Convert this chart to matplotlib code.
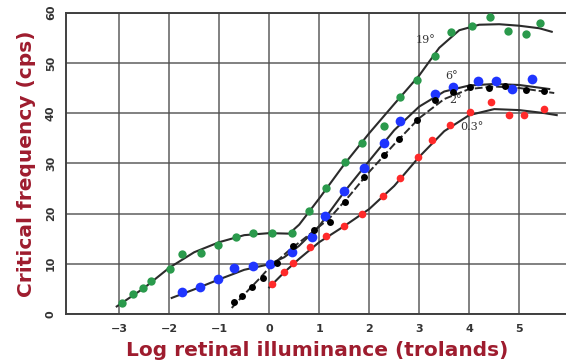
"""
Frecuencia crítica de parpadeo vs iluminancia retiniana para 4 tamaños de campo
"""
import matplotlib.pyplot as plt
import numpy as np

# Puntos medidos (log trolands, cps)
x_19 = [-2.95, -2.73, -2.53, -2.37, -1.99, -1.75, -1.36, -1.03, -0.66, -0.33, 0.05, 0.45,
        0.79, 1.14, 1.52, 1.85, 2.29, 2.61, 2.95, 3.31, 3.64, 4.05, 4.42, 4.77, 5.13, 5.41]
y_19 = [2.1, 3.9, 5.1, 6.6, 8.9, 11.9, 12.2, 13.7, 15.3, 16.1, 16.1, 16.1,
        20.6, 25.0, 30.3, 34.1, 37.4, 43.3, 46.6, 51.4, 56.1, 57.4, 59.2, 56.4, 55.8, 57.9]

x_6 = [-1.75, -1.38, -1.03, -0.71, -0.33, 0.02, 0.45, 0.85, 1.12, 1.50, 1.90, 2.29,
       2.61, 3.31, 3.67, 4.17, 4.54, 4.85, 5.25]
y_6 = [4.4, 5.3, 6.9, 9.1, 9.6, 10.0, 12.4, 15.3, 19.5, 24.5, 29.0, 34.0,
       38.5, 43.8, 45.1, 46.3, 46.3, 44.8, 46.8]

x_2 = [-0.70, -0.54, -0.35, -0.12, 0.15, 0.47, 0.89, 1.21, 1.52, 1.90, 2.30, 2.59,
       2.95, 3.31, 3.67, 4.02, 4.39, 4.72, 5.13, 5.49]
y_2 = [2.3, 3.6, 5.3, 7.1, 10.2, 13.6, 16.7, 18.4, 22.4, 27.2, 31.7, 34.8,
       38.6, 42.6, 44.3, 45.2, 45.0, 45.4, 44.6, 44.5]

x_03 = [0.05, 0.29, 0.47, 0.82, 1.14, 1.49, 1.85, 2.27, 2.61, 2.97, 3.25, 3.62,
        4.01, 4.44, 4.79, 5.10, 5.49]
y_03 = [5.9, 8.3, 10.1, 13.3, 15.5, 17.5, 19.9, 23.5, 27.0, 31.2, 34.7, 37.6,
        40.3, 42.3, 39.6, 39.6, 40.8]

# Curvas ajustadas (trazadas a mano)
cx_19 = [-3.05, -2.5, -2.0, -1.5, -1.0, -0.5, 0.0, 0.4, 0.6, 1.0, 1.5, 2.0, 2.5,
         3.0, 3.4, 3.8, 4.2, 4.6, 5.0, 5.4, 5.65]
cy_19 = [1.5, 5.2, 9.2, 12.3, 14.3, 15.7, 16.1, 16.0, 17.8, 23.0, 29.8, 36.0, 41.8,
         47.5, 53.0, 56.5, 57.6, 57.7, 57.4, 56.9, 56.2]

cx_6 = [-1.95, -1.5, -1.0, -0.5, 0.0, 0.3, 0.6, 1.0, 1.5, 2.0, 2.5, 3.0, 3.5,
        4.0, 4.5, 5.0, 5.6]
cy_6 = [3.2, 4.9, 6.9, 8.8, 9.9, 11.3, 13.6, 17.5, 24.3, 30.5, 36.6, 41.3, 44.3,
        45.5, 45.8, 45.6, 44.8]

cx_2 = [-0.75, -0.5, -0.2, 0.0, 0.4, 0.8, 1.2, 1.6, 2.0, 2.5, 3.0, 3.5, 4.0,
        4.5, 5.0, 5.7]
cy_2 = [1.2, 3.9, 7.0, 9.2, 12.7, 15.8, 19.0, 23.5, 28.3, 33.8, 39.0, 42.8, 44.8,
        45.3, 45.0, 44.0]

cx_03 = [0.0, 0.3, 0.6, 1.0, 1.5, 2.0, 2.5, 3.0, 3.5, 4.0, 4.5, 5.0, 5.5, 5.75]
cy_03 = [5.3, 8.3, 11.0, 14.3, 17.5, 20.9, 25.5, 31.3, 36.4, 39.6, 40.8, 40.6, 40.0, 39.6]

x_ticks = [-3, -2, -1, 0, 1, 2, 3, 4, 5, 6]
x_ticklabels = ['\u22123', '\u22122', '\u22121', '0', '1', '2', '3', '4', '5', '6']
y_ticks = [0, 10, 20, 30, 40, 50, 60]

fig = plt.figure(figsize=(5.66, 3.62), dpi=100)
ax = fig.add_axes([0.1161, 0.1326, 0.8896, 0.8324])

lc = '#2b2b2b'
ax.plot(cx_19, cy_19, color=lc, lw=1.5, zorder=3)
ax.plot(cx_6, cy_6, color=lc, lw=1.5, zorder=3)
ax.plot(cx_2, cy_2, color=lc, lw=1.4, ls=(0, (4, 1.5)), zorder=3)
ax.plot(cx_03, cy_03, color=lc, lw=1.5, zorder=3)

ax.plot(x_19, y_19, 'o', color='#2a9a4c', ms=6, mec='none', zorder=4)
ax.plot(x_6, y_6, 'o', color='#1f35ff', ms=7, mec='none', zorder=4)
ax.plot(x_2, y_2, 'o', color='black', ms=5, mec='none', zorder=4)
ax.plot(x_03, y_03, 'o', color='#ff2a2a', ms=5.5, mec='none', zorder=4)

# Etiquetas de tamaño de campo
lab = dict(fontsize=8, family='DejaVu Serif', color='#333333', zorder=5)
ax.text(3.12, 54.6, '19°', ha='center', va='center', **lab)
ax.text(3.65, 47.4, '6°', ha='center', va='center', **lab)
ax.text(3.72, 42.6, '2°', ha='center', va='center', **lab)
ax.text(4.05, 37.3, '0.3°', ha='center', va='center', **lab)

ax.set_xlim(-4.07, 6.0)
ax.set_ylim(0, 60)
ax.set_xticks(x_ticks)
ax.set_xticklabels(x_ticklabels)
ax.set_yticks(y_ticks)
ax.grid(True, color='#505050', lw=1.2, alpha=0.85)
ax.set_axisbelow(True)
for s in ax.spines.values():
    s.set_color('#404040')
    s.set_linewidth(1.4)

ax.tick_params(axis='both', length=0, labelsize=8, labelcolor='#333333')
ax.tick_params(axis='x', pad=7)
ax.tick_params(axis='y', pad=7)
for t in ax.get_yticklabels():
    t.set_rotation(90)
    t.set_va('center')
for t in ax.get_xticklabels() + ax.get_yticklabels():
    t.set_fontweight('bold')

red = '#9e1c2e'
ax.set_xlabel('Log retinal illuminance (trolands)', fontsize=14.5, fontweight='bold',
              color=red, family='DejaVu Sans', labelpad=5)
ax.set_ylabel('Critical frequency (cps)', fontsize=14.5, fontweight='bold',
              color=red, family='DejaVu Sans', labelpad=7)

plt.savefig('out.png', dpi=100)
